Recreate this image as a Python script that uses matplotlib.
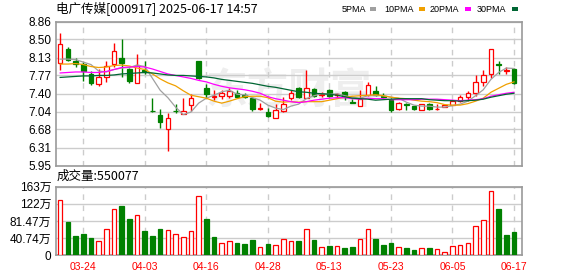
import matplotlib.pyplot as plt
import numpy as np
from matplotlib.patches import Rectangle

plt.rcParams['font.family'] = ['Liberation Sans', 'Noto Sans CJK SC']

dates = ['03-19', '03-20', '03-21', '03-24', '03-25', '03-26', '03-27', '03-28', '03-31', '04-01',
         '04-02', '04-03', '04-07', '04-08', '04-09', '04-10', '04-11', '04-14', '04-15', '04-16',
         '04-17', '04-18', '04-21', '04-22', '04-23', '04-24', '04-25', '04-28', '04-29', '04-30',
         '05-06', '05-07', '05-08', '05-09', '05-12', '05-13', '05-14', '05-15', '05-16', '05-19',
         '05-20', '05-21', '05-22', '05-23', '05-26', '05-27', '05-28', '05-29', '05-30', '06-03',
         '06-04', '06-05', '06-06', '06-09', '06-10', '06-11', '06-12', '06-13', '06-16', '06-17']
tick_dates = ['03-24', '04-03', '04-16', '04-28', '05-13', '05-23', '06-05', '06-17']

opens = [8.02, 8.31, 8.07, 8.01, 7.79, 7.60, 7.74, 8.00, 8.13, 7.91,
         7.62, 7.87, 7.06, 6.97, 6.68, 7.06, 6.99, 7.17, 8.07, 7.51,
         7.33, 7.35, 7.35, 7.42, 7.37, 7.31, 7.09, 7.03, 6.92, 7.06,
         7.32, 7.51, 7.32, 7.50, 7.38, 7.47, 7.37, 7.43, 7.24, 7.15,
         7.37, 7.46, 7.35, 7.27, 7.10, 7.20, 7.15, 7.08, 7.19, 7.09,
         7.13, 7.17, 7.25, 7.33, 7.41, 7.64, 7.80, 8.00, 7.85, 7.91]
highs = [8.63, 8.35, 8.13, 8.04, 7.85, 7.90, 8.07, 8.42, 8.51, 7.93,
         8.21, 8.07, 7.31, 7.09, 7.02, 7.19, 7.31, 7.39, 8.07, 7.60,
         7.48, 7.47, 7.51, 7.47, 7.41, 7.33, 7.21, 7.11, 7.20, 7.33,
         7.48, 7.53, 7.87, 7.52, 7.43, 7.49, 7.42, 7.45, 7.29, 7.48,
         7.64, 7.55, 7.41, 7.31, 7.23, 7.22, 7.15, 7.20, 7.21, 7.19,
         7.18, 7.28, 7.37, 7.45, 7.77, 7.89, 8.31, 8.07, 7.94, 7.92]
lows = [7.89, 8.07, 7.95, 7.65, 7.57, 7.55, 7.64, 7.95, 7.73, 7.61,
        7.61, 7.79, 7.04, 6.70, 6.24, 7.02, 6.99, 7.06, 7.70, 7.32,
        7.28, 7.29, 7.31, 7.31, 7.31, 7.05, 7.07, 6.93, 6.91, 7.04,
        7.28, 7.31, 7.32, 7.33, 7.34, 7.33, 7.31, 7.27, 7.21, 7.15,
        7.35, 7.35, 7.31, 7.04, 7.08, 7.07, 7.07, 7.07, 7.07, 7.07,
        7.13, 7.17, 7.23, 7.25, 7.35, 7.55, 7.72, 7.79, 7.79, 7.60]
closes = [8.40, 8.09, 8.01, 7.85, 7.61, 7.74, 7.97, 8.26, 8.03, 7.65,
          7.98, 7.83, 7.05, 6.83, 6.90, 7.05, 7.06, 7.32, 7.72, 7.39,
          7.36, 7.41, 7.45, 7.34, 7.33, 7.09, 7.12, 6.95, 7.07, 7.19,
          7.41, 7.33, 7.52, 7.35, 7.39, 7.35, 7.39, 7.33, 7.21, 7.29,
          7.58, 7.37, 7.33, 7.07, 7.21, 7.17, 7.09, 7.19, 7.09, 7.10,
          7.18, 7.25, 7.33, 7.41, 7.64, 7.78, 8.31, 7.99, 7.87, 7.62]

ma5 = [8.10, 8.10, 8.09, 8.04, 7.99, 7.86, 7.84, 7.89, 7.92, 7.93,
       7.98, 7.95, 7.71, 7.47, 7.32, 7.13, 6.98, 7.03, 7.21, 7.31,
       7.37, 7.44, 7.47, 7.39, 7.38, 7.32, 7.27, 7.17, 7.11, 7.08,
       7.15, 7.19, 7.30, 7.36, 7.40, 7.39, 7.40, 7.36, 7.33, 7.31,
       7.36, 7.36, 7.36, 7.33, 7.31, 7.23, 7.17, 7.15, 7.15, 7.13,
       7.13, 7.16, 7.19, 7.25, 7.36, 7.48, 7.69, 7.83, 7.92, 7.91]
ma10 = [8.00, 8.00, 8.01, 7.99, 7.95, 7.93, 7.94, 7.97, 7.98, 7.96,
        7.92, 7.89, 7.80, 7.70, 7.62, 7.56, 7.46, 7.37, 7.34, 7.31,
        7.25, 7.21, 7.25, 7.30, 7.34, 7.35, 7.35, 7.32, 7.25, 7.23,
        7.24, 7.23, 7.24, 7.24, 7.24, 7.27, 7.30, 7.33, 7.35, 7.36,
        7.37, 7.38, 7.36, 7.33, 7.31, 7.30, 7.27, 7.25, 7.24, 7.22,
        7.18, 7.17, 7.17, 7.20, 7.25, 7.31, 7.43, 7.51, 7.59, 7.64]
ma20 = [7.82, 7.83, 7.84, 7.84, 7.83, 7.83, 7.85, 7.89, 7.93, 7.94,
        7.95, 7.94, 7.90, 7.85, 7.80, 7.77, 7.74, 7.71, 7.67, 7.64,
        7.59, 7.55, 7.52, 7.50, 7.48, 7.45, 7.41, 7.34, 7.30, 7.27,
        7.24, 7.22, 7.24, 7.27, 7.29, 7.31, 7.32, 7.32, 7.30, 7.29,
        7.31, 7.30, 7.30, 7.28, 7.28, 7.28, 7.28, 7.29, 7.29, 7.29,
        7.28, 7.27, 7.26, 7.27, 7.28, 7.30, 7.35, 7.38, 7.41, 7.43]
ma30 = [7.73, 7.74, 7.75, 7.76, 7.76, 7.77, 7.77, 7.78, 7.80, 7.81,
        7.82, 7.83, 7.82, 7.80, 7.78, 7.77, 7.77, 7.76, 7.75, 7.74,
        7.72, 7.69, 7.67, 7.65, 7.63, 7.61, 7.58, 7.55, 7.53, 7.50,
        7.47, 7.44, 7.43, 7.41, 7.40, 7.39, 7.37, 7.34, 7.31, 7.30,
        7.29, 7.27, 7.28, 7.29, 7.30, 7.30, 7.30, 7.30, 7.28, 7.27,
        7.26, 7.26, 7.25, 7.26, 7.27, 7.29, 7.33, 7.36, 7.39, 7.41]

# volume in 万 (10k), colour = up/down vs previous close
volume = [130, 79, 45, 50, 41, 33, 62, 109, 117, 86,
          95, 57, 45, 62, 59, 50, 43, 57, 140, 85,
          43, 30, 33, 28, 26, 36, 19, 26, 24, 38,
          33, 33, 62, 36, 19, 21, 21, 17, 19, 38,
          62, 38, 24, 28, 19, 17, 12, 17, 17, 14,
          9, 21, 24, 28, 69, 83, 152, 109, 47, 55.0077]
vol_up = [1, 0, 0, 0, 0, 1, 1, 1, 0, 0,
          1, 0, 0, 0, 1, 1, 1, 1, 1, 0,
          0, 1, 1, 0, 0, 0, 1, 0, 1, 1,
          1, 0, 1, 0, 1, 0, 1, 0, 0, 1,
          1, 0, 0, 0, 1, 0, 0, 1, 0, 1,
          1, 1, 1, 1, 1, 1, 1, 0, 0, 0]

price_ticks = ['5.95', '6.31', '6.68', '7.04', '7.40', '7.77', '8.13', '8.50', '8.86']
vol_ticks = [0, 40.74, 81.47, 122.2, 162.95]
vol_labels = ['0', '40.74万', '81.47万', '122万', '163万']

ma_names = ['5PMA', '10PMA', '20PMA', '30PMA']
ma_colors = ['#a0a0a0', '#f0a000', '#ff00ff', '#006633']

RED = '#ff0000'
GREEN = '#008000'
GRID = '#cccccc'
SPINE = '#9a9a9a'

W, H = 578, 276
fig = plt.figure(figsize=(W / 100, H / 100), dpi=100)


def box(l, t, r, b):
    return [l / W, 1 - b / H, (r - l) / W, (b - t) / H]


ax = fig.add_axes(box(55.5, 21.5, 522, 165.5))
axv = fig.add_axes(box(55.5, 186.5, 522, 255.3))

x = np.arange(len(closes))
w = 0.6
for i in x:
    o, h, l, c = opens[i], highs[i], lows[i], closes[i]
    if c >= o:
        ax.vlines(i, c, h, color=RED, lw=1, zorder=3)
        ax.vlines(i, l, o, color=RED, lw=1, zorder=3)
        ax.add_patch(Rectangle((i - w / 2, o), w, max(c - o, 0.003), facecolor='white',
                               edgecolor=RED, lw=0.9, zorder=3))
    else:
        ax.vlines(i, l, h, color=GREEN, lw=1, zorder=3)
        ax.add_patch(Rectangle((i - w / 2, c), w, max(o - c, 0.003), facecolor=GREEN,
                               edgecolor=GREEN, lw=0.9, zorder=3))

for series, col in zip([ma5, ma10, ma20, ma30], ma_colors):
    ax.plot(x, series, color=col, lw=0.9, zorder=4)

ax.text(0.50, 0.52, '东方财富', transform=ax.transAxes, fontsize=30, color='#eeeeee',
        ha='center', va='center', family=['Noto Sans CJK SC'], fontweight='bold', zorder=0.5)

for i in x:
    if vol_up[i]:
        axv.add_patch(Rectangle((i - w / 2, 0), w, volume[i], facecolor='white',
                                edgecolor=RED, lw=0.9, zorder=3))
    else:
        axv.add_patch(Rectangle((i - w / 2, 0), w, volume[i], facecolor=GREEN,
                                edgecolor=GREEN, lw=0.9, zorder=3))

tick_idx = [dates.index(d) for d in tick_dates]
for a in (ax, axv):
    a.set_xlim(-0.61, 60.04)
    a.set_xticks(tick_idx)
    a.grid(axis='x', color=GRID, lw=1, ls=(0, (4, 4)))
    a.grid(axis='y', color=GRID, lw=1, ls='-')
    a.set_axisbelow(True)
    for s in a.spines.values():
        s.set_color(SPINE)
        s.set_linewidth(1.2)
    a.tick_params(length=0, labelsize=8.5, pad=3)

ax.set_ylim(5.95, 8.86)
ax.set_yticks([float(t) for t in price_ticks])
ax.set_yticklabels(price_ticks)
ax.set_xticklabels([])

axv.set_ylim(0, 162.95)
axv.set_yticks(vol_ticks)
axv.set_yticklabels(vol_labels)
axv.set_xticklabels(tick_dates, color=RED, fontsize=7.5)
axv.tick_params(axis='x', pad=5)

fig.text(56 / W, 1 - 9 / H, '电广传媒[000917] 2025-06-17 14:57', fontsize=9, va='center',
         family=['Noto Sans CJK SC'])
fig.text(57 / W, 1 - 176.5 / H, '成交量:550077', fontsize=9, va='center',
         family=['Noto Sans CJK SC'])

# legend: label text, then a small colour swatch
label_x = [342, 384, 430, 476.5]
swatch_x = [369.5, 418.5, 465, 511.5]
for name, col, lx, sx in zip(ma_names, ma_colors, label_x, swatch_x):
    fig.text(lx / W, 1 - 9 / H, name, fontsize=6.5, va='center')
    fig.patches.append(Rectangle((sx / W, 1 - 11 / H), 6 / W, 4 / H,
                                 transform=fig.transFigure, facecolor=col, edgecolor='none'))

fig.savefig('out.png', dpi=100)
